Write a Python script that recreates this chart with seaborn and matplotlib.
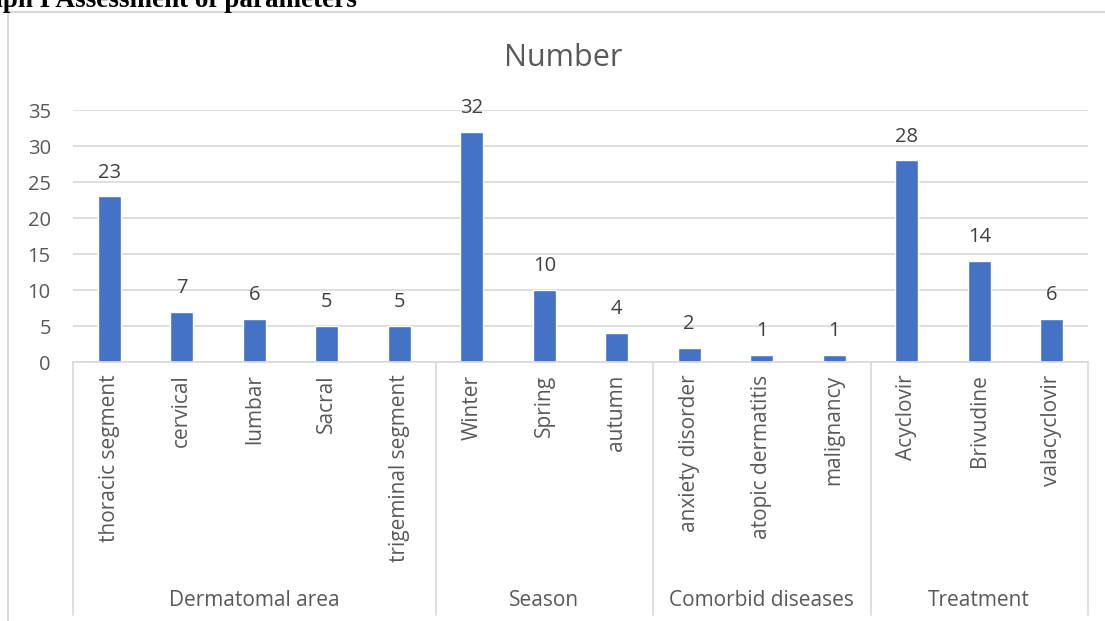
import matplotlib
matplotlib.use("Agg")
import matplotlib.pyplot as plt
import matplotlib.transforms as mtransforms
import seaborn as sns
import pandas as pd

# Data
categories = ["thoracic segment", "cervical", "lumbar", "Sacral", "trigeminal segment",
              "Winter", "Spring", "autumn",
              "anxiety disorder", "atopic dermatitis", "malignancy",
              "Acyclovir", "Brivudine", "valacyclovir"]
values = [23, 7, 6, 5, 5, 32, 10, 4, 2, 1, 1, 28, 14, 6]
groups = ["Dermatomal area", "Season", "Comorbid diseases", "Treatment"]
group_sizes = [5, 3, 3, 3]
y_ticks = [0, 5, 10, 15, 20, 25, 30, 35]

sns.set_style("white")
plt.rcParams["font.family"] = ["Open Sans", "DejaVu Sans"]

W, H = 1105, 621
fig = plt.figure(figsize=(W / 100, H / 100), dpi=100)

# plot area in pixel terms
left_px, right_px, top_px, base_px = 73, 1088, 110, 362
ax = fig.add_axes([left_px / W, (H - base_px) / H, (right_px - left_px) / W, (base_px - top_px) / H])

df = pd.DataFrame({"category": categories, "value": values})
sns.barplot(data=df, x="category", y="value", order=categories, color="#4472C4",
            saturation=1, width=0.32, ax=ax)

ax.set_xlim(-0.5, len(categories) - 0.5)
ax.set_ylim(0, 35)
ax.set_yticks(y_ticks)
ax.set_yticklabels([str(t) for t in y_ticks])
ax.yaxis.grid(True, color="#d9d9d9", linewidth=1.2)
ax.set_axisbelow(True)
ax.set_xlabel("")
ax.set_ylabel("")
for side in ["left", "right", "top"]:
    ax.spines[side].set_visible(False)
ax.spines["bottom"].set_color("#d9d9d9")
ax.spines["bottom"].set_linewidth(1.2)
ax.tick_params(axis="y", length=0, pad=16, labelsize=14.5, labelcolor="#595959")
ax.tick_params(axis="x", length=0, pad=9, labelsize=15, labelcolor="#595959")
ax.set_xticks(range(len(categories)))
ax.set_xticklabels(categories, rotation=90, va="top", ha="center")

# value labels above bars
for i, v in enumerate(values):
    ax.annotate(str(v), xy=(i, v), xytext=(0, 10), textcoords="offset points",
                ha="center", va="bottom", fontsize=14.5, color="#404040")

# group separators and group labels below the category labels
trans = mtransforms.blended_transform_factory(ax.transData, ax.transAxes)
bottom_frac = (base_px - 615) / (base_px - top_px)
label_frac = (base_px - 600) / (base_px - top_px)
start = 0
bounds = [-0.5]
for g, n in zip(groups, group_sizes):
    end = start + n
    ax.text((start + end - 1) / 2, label_frac, g, transform=trans, ha="center", va="center",
            fontsize=15, color="#595959")
    bounds.append(end - 0.5)
    start = end
for b in bounds:
    ax.plot([b, b], [0, bottom_frac], transform=trans, color="#d9d9d9", linewidth=1.2,
            clip_on=False)

# chart title
fig.text(563 / W, 1 - 58 / H, "Number", ha="center", va="center", fontsize=22, color="#595959")

# chart frame
fig.add_artist(plt.Line2D([8 / W, 8 / W], [0, 1 - 12 / H], color="#d9d9d9", linewidth=1.5))
fig.add_artist(plt.Line2D([8 / W, 1], [1 - 12 / H, 1 - 12 / H], color="#d9d9d9", linewidth=1.5))

# document caption above the chart
fig.text(357 / W, 1 - 7 / H, "Graph I Assessment of parameters", ha="right", va="baseline",
         fontsize=19.5, fontweight="bold", family="Liberation Serif", color="black")

fig.savefig("out.png", dpi=100)
